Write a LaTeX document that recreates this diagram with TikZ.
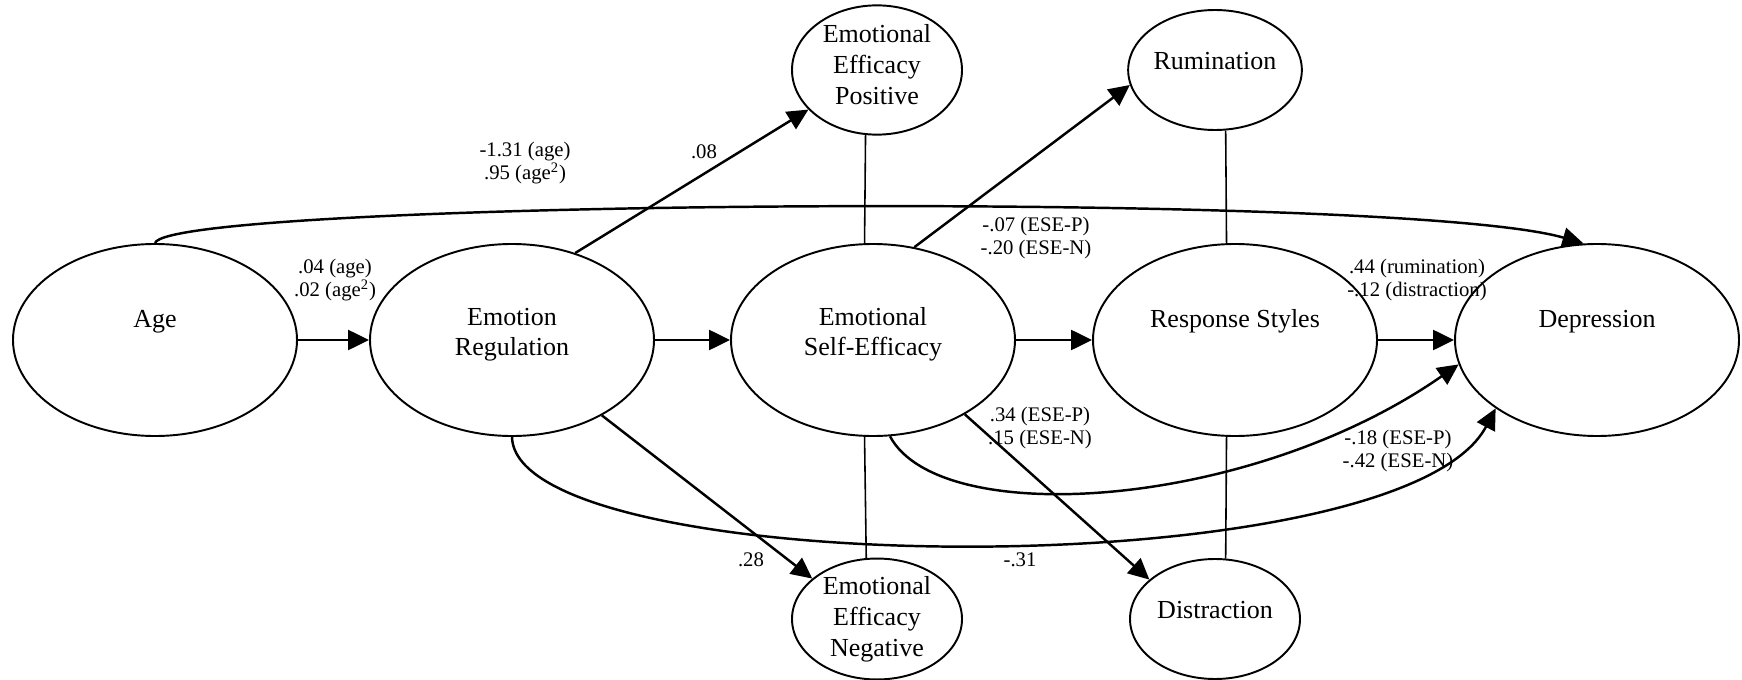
\documentclass[tikz,border=0pt]{standalone}
\usepackage{fontspec}
\setmainfont{Liberation Serif}
\usetikzlibrary{positioning, shapes, arrows.meta, shapes.geometric}
\tikzset{>={Triangle[length=4.2mm,width=4mm]}}
\tikzset{
    construct/.style = {ellipse, draw, line width=1.1pt, minimum width=5.68cm,
                        minimum height=3.84cm, inner sep=0pt, align=center,
                        font=\fontsize{14.8}{17}\selectfont},
    facet/.style = {ellipse, draw, line width=1.1pt, minimum width=3.4cm,
                        minimum height=2.4cm, inner sep=0pt, align=center,
                        font=\fontsize{14.8}{17.6}\selectfont},
    oneline/.style = {text depth=8.5mm},
    twoline/.style = {text depth=3.4mm},
    raised/.style = {text depth=3.7mm},
    coef/.style = {align=center, inner sep=1pt, font=\fontsize{11.8}{13.6}\selectfont},
    effect/.style = {->, line width=1.4pt},
    link/.style = {line width=0.9pt}
}

\begin{document}
\begin{tikzpicture}[scale=1]
		\useasboundingbox (0,0) rectangle (34.84,-13.60);
		\node (age) [construct, oneline] at (3.10,-6.80) {Age};
		\node (er) [construct, twoline] at (10.24,-6.80) {Emotion\\Regulation};
		\node (ese) [construct, twoline] at (17.46,-6.80) {Emotional\\Self-Efficacy};
		\node (rs) [construct, oneline] at (24.70,-6.80) {Response Styles};
		\node (dep) [construct, oneline] at (31.94,-6.80) {Depression};
		\node (eep) [facet, text depth=2.3mm] at (17.54,-1.40) {Emotional\\Efficacy\\Positive};
		\node (een) [facet] at (17.54,-12.38) {Emotional\\Efficacy\\Negative};
		\node (rum) [facet, raised] at (24.30,-1.40) {Rumination};
		\node (dis) [facet, raised] at (24.30,-12.38) {Distraction};
		\draw [link] (eep.260) -- (ese.95);
		\draw [link] (een.100) -- (ese.265);
		\draw [link] (rum.280) -- (rs.95);
		\draw [link] (dis.80) -- (rs.265);
		\draw [effect] (age.east) -- (er.west);
		\draw [effect] (er.east) -- (ese.west);
		\draw [effect] (ese.east) -- (rs.west);
		\draw [effect] (rs.east) -- (dep.west);
		\draw [effect] (er.54) -- (eep.210);
		\draw [effect] (er.320) -- (een.148);
		\draw [effect] (ese.66) -- (rum.190);
		\draw [effect] (ese.321) -- (dis.149);
		\draw [effect] (age.north) .. controls (3.4,-4.0) and (28.0,-3.8) .. (dep.98);
		\draw [effect] (ese.280) .. controls (18.8,-10.6) and (25.0,-10.2) .. (dep.190);
		\draw [effect] (er.south) .. controls (10.3,-11.6) and (28.0,-11.8) .. (dep.214);
		\node (w1) [coef] at (10.50,-3.26) {-1.31 (age)\\.95 (age\textsuperscript{2})};
		\node (w2) [coef] at (6.70,-5.60) {.04 (age)\\.02 (age\textsuperscript{2})};
		\node (w3) [coef] at (14.08,-3.04) {.08};
		\node (w4) [coef] at (20.72,-4.76) {-.07 (ESE-P)\\-.20 (ESE-N)};
		\node (w5) [coef] at (28.34,-5.60) {.44 (rumination)\\-.12 (distraction)};
		\node (w6) [coef] at (20.80,-8.56) {.34 (ESE-P)\\.15 (ESE-N)};
		\node (w7) [coef] at (27.96,-9.02) {-.18 (ESE-P)\\-.42 (ESE-N)};
		\node (w8) [coef] at (15.02,-11.20) {.28};
		\node (w9) [coef] at (20.40,-11.20) {-.31};
	\end{tikzpicture}
\end{document}
